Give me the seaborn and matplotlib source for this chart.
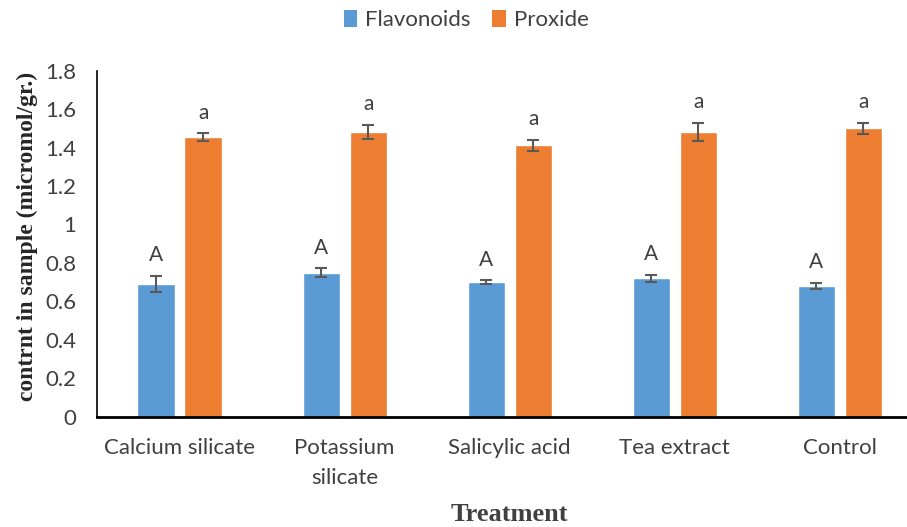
import matplotlib
matplotlib.use("Agg")
import matplotlib.pyplot as plt
import seaborn as sns
import pandas as pd
import numpy as np
from matplotlib.patches import Patch

treatments = ["Calcium silicate", "Potassium\nsilicate", "Salicylic acid", "Tea extract", "Control"]
flavonoids = [0.69, 0.75, 0.70, 0.72, 0.68]
flavonoids_err = [0.043, 0.023, 0.010, 0.019, 0.017]
proxide = [1.455, 1.481, 1.412, 1.481, 1.500]
proxide_err = [0.021, 0.037, 0.028, 0.049, 0.030]
flav_letters = ["A", "A", "A", "A", "A"]
prox_letters = ["a", "a", "a", "a", "a"]
series = ["Flavonoids", "Proxide"]
colors = ["#5B9BD5", "#ED7D31"]
yticks = [0, 0.2, 0.4, 0.6, 0.8, 1, 1.2, 1.4, 1.6, 1.8]
ytick_labels = ["0", "0.2", "0.4", "0.6", "0.8", "1", "1.2", "1.4", "1.6", "1.8"]

df = pd.DataFrame({
    "Treatment": treatments * 2,
    "Series": [series[0]] * 5 + [series[1]] * 5,
    "Value": flavonoids + proxide,
})

sns.set_style("white")
plt.rcParams["font.family"] = ["Lato", "DejaVu Sans"]

W, H = 907, 527
ax_left, ax_right, ax_top, ax_bot = 97, 922.5, 70.7, 416.7
fig = plt.figure(figsize=(W / 100, H / 100), dpi=100)
ax = fig.add_axes([ax_left / W, 1 - ax_bot / H, (ax_right - ax_left) / W, (ax_bot - ax_top) / H])

sns.barplot(data=df, x="Treatment", y="Value", hue="Series", palette=colors,
            order=treatments, hue_order=series, width=0.57, gap=0.21,
            errorbar=None, ax=ax, legend=False, saturation=1)

errs = [flavonoids_err, proxide_err]
letters = [flav_letters, prox_letters]
bar_containers = list(ax.containers)
for ci, cont in enumerate(bar_containers):
    for bi, patch in enumerate(cont.patches):
        xc = patch.get_x() + patch.get_width() / 2
        h = patch.get_height()
        e = errs[ci][bi]
        ax.errorbar(xc, h, yerr=e, fmt="none", ecolor="#595959", elinewidth=1.5,
                    capsize=4.3, capthick=1.5)
        ax.annotate(letters[ci][bi], (xc, h + e), xytext=(0, 7.5), textcoords="offset points",
                    ha="center", va="bottom", fontsize=15, color="#404040")

ax.set_ylim(0, 1.8)
ax.set_xlim(-0.5, 4.5)
ax.set_yticks(yticks)
ax.set_yticklabels(ytick_labels)
ax.tick_params(axis="both", length=0, labelsize=16, labelcolor="#404040")
ax.tick_params(axis="y", pad=15)
ax.tick_params(axis="x", pad=15)
for lab in ax.get_xticklabels():
    lab.set_linespacing(1.65)

sns.despine(ax=ax, top=True, right=True)
ax.spines["left"].set_color("black")
ax.spines["left"].set_linewidth(1.2)
ax.spines["bottom"].set_color("black")
ax.spines["bottom"].set_linewidth(2)

ax.set_xlabel("Treatment", fontsize=19, fontweight="bold", family="Liberation Serif",
              color="#404040")
ax.xaxis.set_label_coords(0.5, (ax_bot - 503) / (ax_bot - ax_top))
ax.set_ylabel("contrnt in sample (micromol/gr.)", fontsize=17, fontweight="bold",
              family="Liberation Serif", color="#262626")
ax.yaxis.set_label_coords((38 - ax_left) / (ax_right - ax_left), (ax_bot - 236) / (ax_bot - ax_top))

handles = [Patch(facecolor=c, edgecolor="none") for c in colors]
fig.legend(handles, series, loc="center", bbox_to_anchor=(466 / W, 1 - 20 / H), ncol=2,
           frameon=False, fontsize=16, handlelength=0.6, handleheight=0.8,
           handletextpad=0.35, columnspacing=1.0, labelcolor="#404040")

fig.savefig("out.png", dpi=100)
